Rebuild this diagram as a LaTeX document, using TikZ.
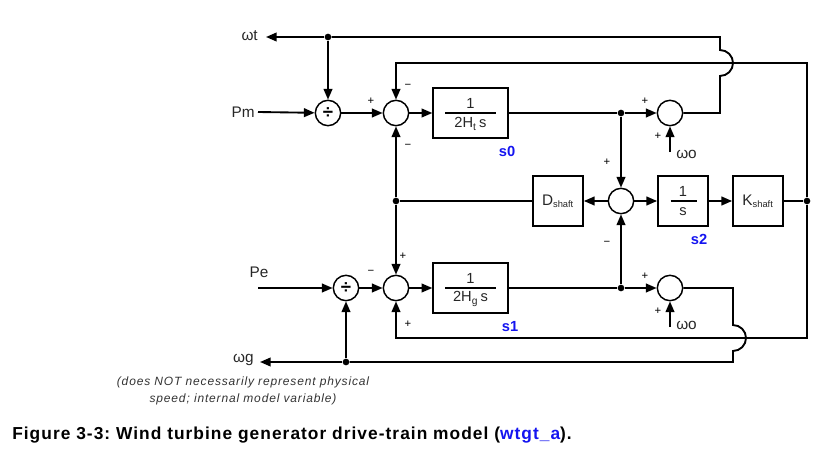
\documentclass[tikz,border=0pt]{standalone}
\usepackage{fontspec}
\setmainfont{Liberation Sans}
\usetikzlibrary{arrows.meta}
\definecolor{lblue}{RGB}{20,20,240}
\frenchspacing
\begin{document}
\begin{tikzpicture}[x=0.75pt,y=-0.75pt,
  wire/.style={line width=1.4pt},
  arr/.style={-{Triangle[length=8pt,width=6.5pt]}},
  sumc/.style={circle,draw,line width=1.1pt,minimum size=19pt,inner sep=0pt},
  divs/.style={font=\bfseries\fontsize{14}{14}\selectfont},
  blk/.style={draw,line width=1.3pt,minimum width=56pt,minimum height=37.5pt,inner sep=0pt},
  sblk/.style={draw,line width=1.3pt,minimum width=37.5pt,minimum height=37.5pt,inner sep=0pt},
  lbl/.style={font=\fontsize{11.5}{13}\selectfont,inner sep=0pt,text=black!85},
  blbl/.style={font=\fontsize{11}{13}\selectfont,inner sep=0pt,text=black!85},
  sgn/.style={font=\fontsize{8.5}{9}\selectfont,inner sep=0pt},
  tag/.style={font=\bfseries\fontsize{11}{13}\selectfont,text=lblue,inner sep=0pt},
  dotn/.style={circle,fill,minimum size=5pt,inner sep=0pt},
  fbar/.style={line width=1.1pt}]
\useasboundingbox (0,0) rectangle (832,453);

% ---- upper row
\node[lbl,anchor=east] (pm) at (255,112) {Pm};
\node[sumc,divs] (div1) at (328,113) {÷};
\node[sumc] (sum1) at (396,113) {};
\node[blk] (s0blk) at (470.5,113) {};
\node[blbl] (s0num) at (470.5,103) {1};
\node[blbl] (s0den) at (470.5,124) {2H\textsubscript{t}\,s};
\draw[fbar] (445,113) -- (496,113);
\node[tag] (s0) at (507,151) {s0};
\node[dotn] (dot1) at (621,113) {};
\node[sumc] (sumw1) at (670,113) {};
\coordinate (w0a) at (670,152);
\node[lbl,anchor=west] (w0al) at (676,154) {ωo};

% ---- top line
\node[dotn] (dott) at (328,37) {};
\coordinate (wtend) at (266,37);
\node[lbl,anchor=east] (wt) at (258,36) {ωt};

% ---- middle row
\node[sblk] (dsh) at (558,201) {};
\node[lbl] (dshl) at (558,201) {D\textsubscript{\fontsize{7}{8}\selectfont shaft}};
\node[sumc] (sum3) at (621,201) {};
\node[sblk] (integ) at (683,201) {};
\node[blbl] (intnum) at (683,191) {1};
\node[blbl] (intden) at (683,212) {s};
\draw[fbar] (670.5,201) -- (696.5,201);
\node[sblk] (ksh) at (758,201) {};
\node[lbl] (kshl) at (758,201) {K\textsubscript{\fontsize{7}{8}\selectfont shaft}};
\node[tag] (s2) at (699,239) {s2};
\node[dotn] (dotk) at (807,201) {};
\node[dotn] (dotd) at (396,201) {};

% ---- lower row
\node[lbl] (pe) at (259,272) {Pe};
\coordinate (pein) at (258,288);
\node[sumc,divs] (div2) at (346,288) {÷};
\node[sumc] (sum2) at (396,288) {};
\node[blk] (s1blk) at (470.5,288) {};
\node[blbl] (s1num) at (470.5,278) {1};
\node[blbl] (s1den) at (470.5,299) {2H\textsubscript{g}\,s};
\draw[fbar] (445,288) -- (496,288);
\node[tag] (s1) at (510,327) {s1};
\node[dotn] (dot2) at (621,288) {};
\node[sumc] (sumw2) at (670,288) {};
\coordinate (w0b) at (670,327);
\node[lbl,anchor=west] (w0bl) at (676,325) {ωo};

% ---- bottom line
\node[dotn] (dotg) at (346,362) {};
\coordinate (wgend) at (260,362);
\node[lbl,anchor=east] (wg) at (254,360) {ωg};

% ---- feedback corners
\coordinate (fa) at (807,63);
\coordinate (fb) at (396,63);
\coordinate (fc) at (807,338);
\coordinate (fd) at (396,338);

% ---- connectors upper
\draw[wire,arr] (pm.east) ++(3,0) -- (div1);
\draw[wire,arr] (div1) -- (sum1);
\draw[wire,arr] (sum1) -- (s0blk);
\draw[wire] (s0blk) -- (dot1);
\draw[wire,arr] (dot1) -- (sumw1);
\draw[wire,arr] (dot1) -- (sum3);
\draw[wire,arr] (w0a) -- (sumw1);
\draw[wire] (sumw1.east) -- (720,113) -- (720,76) arc[start angle=90,end angle=-90,radius=13] -- (720,37) -- (dott);
\draw[wire,arr] (dott) -- (wtend);
\draw[wire,arr] (dott) -- (div1);
\draw[wire,arr] (dotk) -- (fa) -- (fb) -- (sum1);

% ---- connectors middle
\draw[wire,arr] (sum3) -- (dsh);
\draw[wire] (dsh) -- (dotd);
\draw[wire,arr] (dotd) -- (sum1);
\draw[wire,arr] (dotd) -- (sum2);
\draw[wire,arr] (sum3) -- (integ);
\draw[wire,arr] (integ) -- (ksh);
\draw[wire] (ksh) -- (dotk);
\draw[wire,arr] (dot2) -- (sum3);

% ---- connectors lower
\draw[wire,arr] (pein) -- (div2);
\draw[wire,arr] (div2) -- (sum2);
\draw[wire,arr] (sum2) -- (s1blk);
\draw[wire] (s1blk) -- (dot2);
\draw[wire,arr] (dot2) -- (sumw2);
\draw[wire,arr] (w0b) -- (sumw2);
\draw[wire] (sumw2.east) -- (733,288) -- (733,325) arc[start angle=-90,end angle=90,radius=13] -- (733,362) -- (dotg);
\draw[wire,arr] (dotg) -- (wgend);
\draw[wire,arr] (dotg) -- (div2);
\draw[wire,arr] (dotk) -- (fc) -- (fd) -- (sum2);

% ---- signs
\node[sgn] (p1) at (371,101) {+};
\node[sgn] (m1) at (408,86) {−};
\node[sgn] (m2) at (408,146) {−};
\node[sgn] (p2) at (645,101) {+};
\node[sgn] (p3) at (658,136) {+};
\node[sgn] (p4) at (607,162) {+};
\node[sgn] (m3) at (607,243) {−};
\node[sgn] (m4) at (371,272) {−};
\node[sgn] (p5) at (403,256) {+};
\node[sgn] (p6) at (408,324) {+};
\node[sgn] (p7) at (645,276) {+};
\node[sgn] (p8) at (658,311) {+};

% ---- notes
\node[font=\itshape\fontsize{9}{12.5}\selectfont\addfontfeatures{LetterSpace=7},align=center,text=black!80,inner sep=0pt] (note) at (243,391)
  {(does NOT necessarily represent physical\\speed; internal model variable)};
\node[font=\bfseries\fontsize{13}{15}\selectfont\addfontfeatures{LetterSpace=6},anchor=base west,inner sep=0pt] (cap) at (12,439)
  {Figure 3-3: Wind turbine generator drive-train model (\textcolor{lblue}{wtgt\_a}).};
\end{tikzpicture}
\end{document}
